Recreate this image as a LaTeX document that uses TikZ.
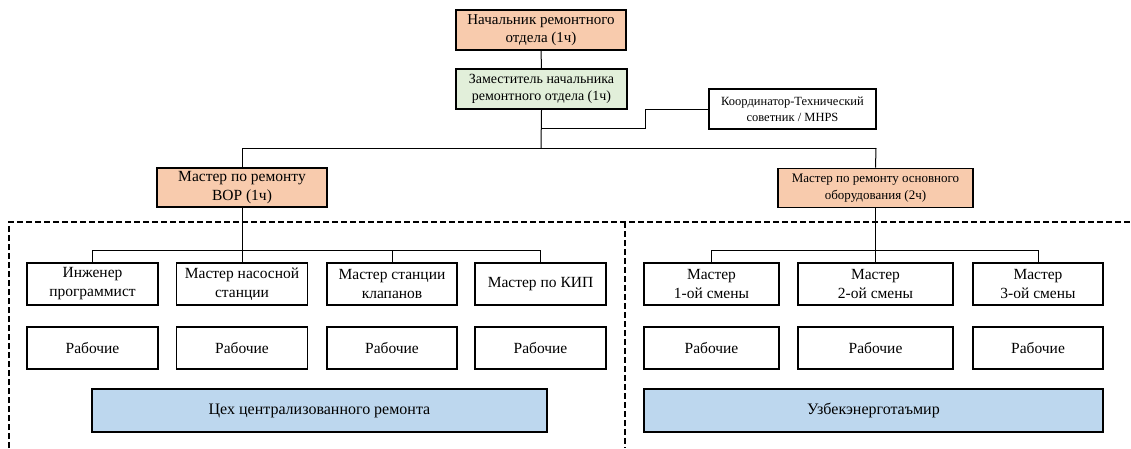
\documentclass[tikz,border=0pt]{standalone}
\usepackage{fontspec}
\setmainfont{Liberation Serif}
\definecolor{peach}{HTML}{F8CBAD}
\definecolor{lgreen}{HTML}{E2EFDA}
\definecolor{lblue}{HTML}{BDD7EE}
\begin{document}
\begin{tikzpicture}[x=1pt,y=-1pt,
  box/.style={draw=black, line width=1.8pt, inner sep=0pt, align=center, minimum height=40pt},
  f16/.style={font=\fontsize{15.5}{19}\selectfont},
  conn/.style={draw=black, line width=1pt},
  dashedline/.style={draw=black, line width=1.2pt, dash pattern=on 6pt off 3pt}]
\useasboundingbox (0,0) rectangle (1131,448);
\fill[white] (0,0) rectangle (1131,448);
% dashed region
\draw[dashedline] (9,448) -- (9,222) -- (1131,222);
\draw[dashedline] (625,222) -- (625,448);
% top nodes
\node[box, fill=peach, minimum width=170pt, font=\fontsize{15}{18.5}\selectfont] (top) at (541,30) {Начальник ремонтного\\отдела (1ч)};
\node[box, fill=lgreen, minimum width=171pt, font=\fontsize{14}{17.5}\selectfont] (dep) at (541.5,89) {Заместитель начальника\\ремонтного отдела (1ч)};
\node[box, fill=white, minimum width=167pt, font=\fontsize{12.5}{16}\selectfont] (coord) at (792.5,109) {Координатор-Технический\\советник / MHPS};
\node[box, fill=peach, minimum width=170pt, minimum height=39pt, font=\fontsize{15.5}{18.5}\selectfont] (lm) at (242,187.5) {Мастер по ремонту\\ВОР (1ч)};
\node[box, fill=peach, minimum width=195pt, minimum height=39pt, font=\fontsize{13}{16.5}\selectfont] (rm) at (875.5,188) {Мастер по ремонту основного\\оборудования (2ч)};
% left sub nodes
\node[box, f16, minimum width=131pt, minimum height=42pt] (l1) at (92.5,284) {Инженер\\программист};
\node[box, f16, minimum width=131pt, minimum height=42pt] (l2) at (242,284) {Мастер насосной\\станции};
\node[box, f16, minimum width=130pt, minimum height=42pt] (l3) at (392,284) {Мастер станции\\клапанов};
\node[box, f16, minimum width=131pt, minimum height=42pt] (l4) at (540.5,284) {Мастер по КИП};
% right sub nodes
\node[box, f16, minimum width=135pt, minimum height=42pt] (r1) at (711.5,284) {Мастер\\1-ой смены};
\node[box, f16, minimum width=155pt, minimum height=42pt] (r2) at (875.5,284) {Мастер\\2-ой смены};
\node[box, f16, minimum width=130pt, minimum height=42pt] (r3) at (1038,284) {Мастер\\3-ой смены};
% workers
\node[box, f16, minimum width=131pt, minimum height=42pt] (w1) at (92.5,348) {Рабочие};
\node[box, f16, minimum width=131pt, minimum height=42pt] (w2) at (242,348) {Рабочие};
\node[box, f16, minimum width=130pt, minimum height=42pt] (w3) at (392,348) {Рабочие};
\node[box, f16, minimum width=131pt, minimum height=42pt] (w4) at (540.5,348) {Рабочие};
\node[box, f16, minimum width=135pt, minimum height=42pt] (w5) at (711.5,348) {Рабочие};
\node[box, f16, minimum width=155pt, minimum height=42pt] (w6) at (875.5,348) {Рабочие};
\node[box, f16, minimum width=130pt, minimum height=42pt] (w7) at (1038,348) {Рабочие};
% blue boxes
\node[box, fill=lblue, minimum width=455pt, minimum height=43pt, font=\fontsize{16}{19}\selectfont] (bl) at (319.5,410.5) {Цех централизованного ремонта};
\node[box, fill=lblue, minimum width=459pt, minimum height=43pt, font=\fontsize{16}{19}\selectfont] (br) at (873.5,410.5) {Узбекэнерготаъмир};
% connectors
\coordinate (b1) at (242,148);
\coordinate (b2) at (876,148);
\coordinate (bm) at (541,148);
\coordinate (c1) at (645,109);
\coordinate (c2) at (645,128);
\coordinate (c3) at (541,128);
\coordinate (sl1) at (92.5,250);
\coordinate (sl4) at (540.5,250);
\coordinate (sl3) at (392,250);
\coordinate (sr1) at (711.5,250);
\coordinate (sr3) at (1038,250);
\draw[conn] (top.south) -- (dep.north);
\draw[conn] (dep.south) -- (bm);
\draw[conn] (b1) -- (b2);
\draw[conn] (coord.west) -- (c1) -- (c2) -- (c3);
\draw[conn] (b1) -- (lm.north);
\draw[conn] (b2) -- (rm.north);
\draw[conn] (lm.south) -- (l2.north);
\draw[line width=1.6pt] (rm.south) -- (r2.north);
\draw[conn] (l1.north) -- (sl1) -- (sl4) -- (l4.north);
\draw[conn] (sl3) -- (l3.north);
\draw[conn] (r1.north) -- (sr1) -- (sr3) -- (r3.north);
\end{tikzpicture}
\end{document}
